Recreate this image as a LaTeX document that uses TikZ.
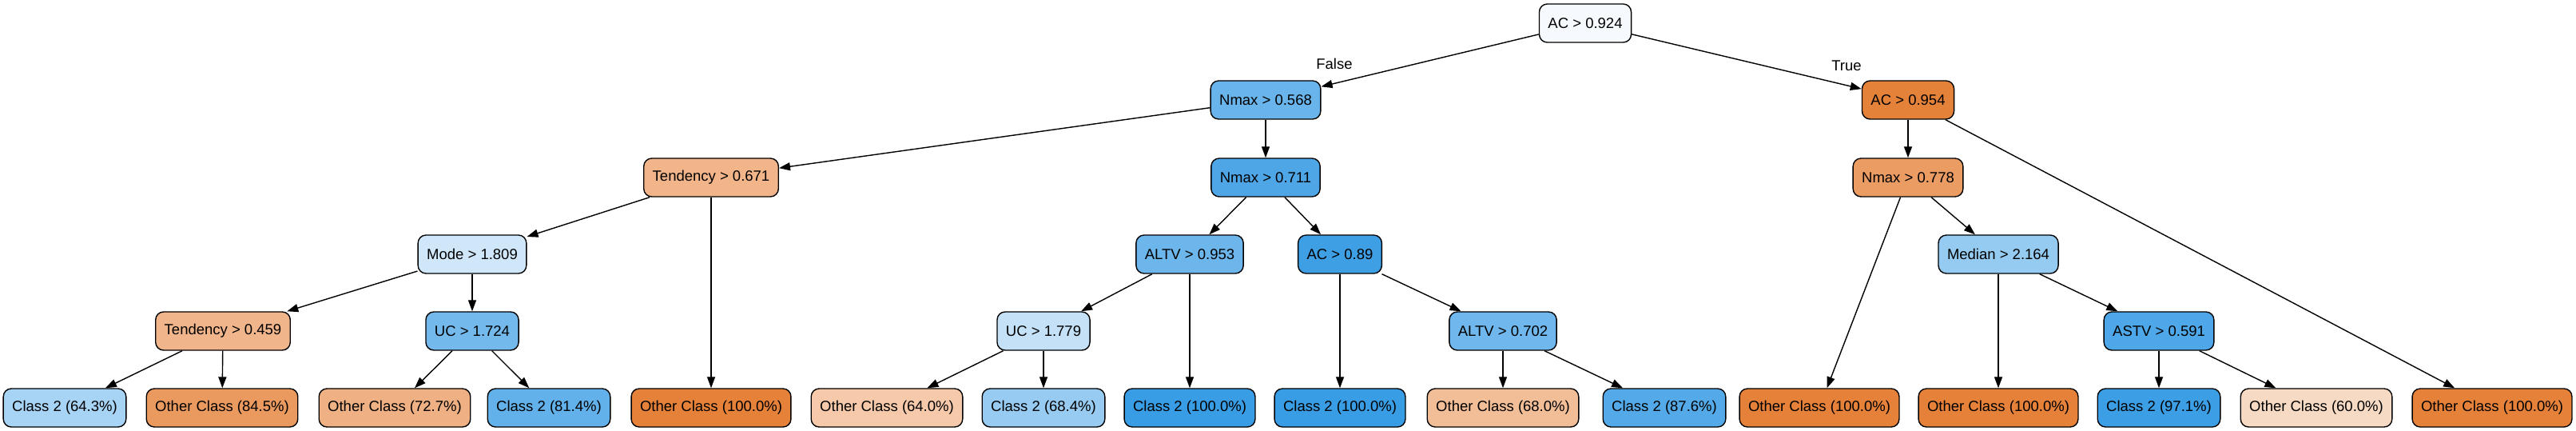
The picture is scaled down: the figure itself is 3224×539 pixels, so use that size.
\documentclass[tikz,border=0pt]{standalone}
\usepackage{fontspec}
\setmainfont{Liberation Sans}
\usepackage{tikz}
\usetikzlibrary{arrows.meta}

\definecolor{root}{HTML}{F6FAFE}
\definecolor{blueA}{HTML}{69B4EB}
\definecolor{blueB}{HTML}{4FA6E7}
\definecolor{blueC}{HTML}{D0E7F9}
\definecolor{blueD}{HTML}{6DB6EC}
\definecolor{blueE}{HTML}{3E9FE5}
\definecolor{blueF}{HTML}{95CAF1}
\definecolor{blueG}{HTML}{73B9EC}
\definecolor{blueH}{HTML}{C4E1F7}
\definecolor{blueI}{HTML}{6FB7EC}
\definecolor{blueJ}{HTML}{4EA7E8}
\definecolor{orangeA}{HTML}{E5823A}
\definecolor{orangeB}{HTML}{F2B58A}
\definecolor{orangeC}{HTML}{EA9C63}
\definecolor{orangeD}{HTML}{F1B58B}
\definecolor{leafA}{HTML}{A7D3F5}
\definecolor{leafB}{HTML}{EA9A5F}
\definecolor{leafC}{HTML}{EFB084}
\definecolor{leafD}{HTML}{62B1EA}
\definecolor{leafE}{HTML}{E58139}
\definecolor{leafF}{HTML}{F5C9A9}
\definecolor{leafG}{HTML}{97CBF1}
\definecolor{leafH}{HTML}{399DE5}
\definecolor{leafI}{HTML}{F2BE98}
\definecolor{leafJ}{HTML}{54AAE8}
\definecolor{leafK}{HTML}{3C9FE5}
\definecolor{leafL}{HTML}{F7DAC3}

\begin{document}
\begin{tikzpicture}[->,>={Triangle[length=7pt,width=5pt]},x=0.5pt,y=-0.5pt,
                    line width=0.7pt]
  \tikzstyle{box}=[draw,rounded corners=5pt,minimum height=24pt,inner xsep=5.5pt,
                   font=\fontsize{9.25}{11}\selectfont]
  \tikzstyle{lbl}=[font=\fontsize{9.25}{11}\selectfont]

  \useasboundingbox (0,0) rectangle (3224,539);

  \node[box,fill=root]    (ac924)   at (1984,29)  {AC > 0.924};
  \node[box,fill=blueA]   (nmax568) at (1584,125) {Nmax > 0.568};
  \node[box,fill=orangeA] (ac954)   at (2388,125) {AC > 0.954};
  \node[box,fill=orangeB] (tend671) at (890,222)  {Tendency > 0.671};
  \node[box,fill=blueB]   (nmax711) at (1584,222) {Nmax > 0.711};
  \node[box,fill=orangeC] (nmax778) at (2388,222) {Nmax > 0.778};
  \node[box,fill=blueC]   (mode)    at (591,318)  {Mode > 1.809};
  \node[box,fill=blueD]   (altv953) at (1489,318) {ALTV > 0.953};
  \node[box,fill=blueE]   (ac890)   at (1677,318) {AC > 0.89};
  \node[box,fill=blueF]   (median)  at (2501,318) {Median > 2.164};
  \node[box,fill=orangeD] (tend459) at (279,414)  {Tendency > 0.459};
  \node[box,fill=blueG]   (uc724)   at (591,414)  {UC > 1.724};
  \node[box,fill=blueH]   (uc779)   at (1306,414) {UC > 1.779};
  \node[box,fill=blueI]   (altv702) at (1881,414) {ALTV > 0.702};
  \node[box,fill=blueJ]   (astv)    at (2702,414) {ASTV > 0.591};

  \node[box,fill=leafA] (leafa) at (81,510)   {Class 2 (64.3\%)};
  \node[box,fill=leafB] (leafb) at (278,510)  {Other Class (84.5\%)};
  \node[box,fill=leafC] (leafc) at (494,510)  {Other Class (72.7\%)};
  \node[box,fill=leafD] (leafd) at (687,510)  {Class 2 (81.4\%)};
  \node[box,fill=leafE] (leafe) at (890,510)  {Other Class (100.0\%)};
  \node[box,fill=leafF] (leaff) at (1110,510) {Other Class (64.0\%)};
  \node[box,fill=leafG] (leafg) at (1306,510) {Class 2 (68.4\%)};
  \node[box,fill=leafH] (leafh) at (1489,510) {Class 2 (100.0\%)};
  \node[box,fill=leafH] (leafi) at (1677,510) {Class 2 (100.0\%)};
  \node[box,fill=leafI] (leafj) at (1881,510) {Other Class (68.0\%)};
  \node[box,fill=leafJ] (leafk) at (2083,510) {Class 2 (87.6\%)};
  \node[box,fill=leafE] (leafl) at (2277,510) {Other Class (100.0\%)};
  \node[box,fill=leafE] (leafm) at (2501,510) {Other Class (100.0\%)};
  \node[box,fill=leafK] (leafn) at (2702,510) {Class 2 (97.1\%)};
  \node[box,fill=leafL] (leafo) at (2899,510) {Other Class (60.0\%)};
  \node[box,fill=leafE] (leafp) at (3119,510) {Other Class (100.0\%)};

  \node[lbl] (false) at (1670,80) {False};
  \node[lbl] (true)  at (2311,82) {True};

  \path (ac924)   edge (nmax568)
        (ac924)   edge (ac954)
        (nmax568) edge (tend671)
        (nmax568) edge (nmax711)
        (tend671) edge (mode)
        (tend671) edge (leafe)
        (mode)    edge (tend459)
        (mode)    edge (uc724)
        (tend459) edge (leafa)
        (tend459) edge (leafb)
        (uc724)   edge (leafc)
        (uc724)   edge (leafd)
        (nmax711) edge (altv953)
        (nmax711) edge (ac890)
        (altv953) edge (uc779)
        (altv953) edge (leafh)
        (uc779)   edge (leaff)
        (uc779)   edge (leafg)
        (ac890)   edge (leafi)
        (ac890)   edge (altv702)
        (altv702) edge (leafj)
        (altv702) edge (leafk)
        (ac954)   edge (nmax778)
        (ac954)   edge (leafp)
        (nmax778) edge (leafl)
        (nmax778) edge (median)
        (median)  edge (leafm)
        (median)  edge (astv)
        (astv)    edge (leafn)
        (astv)    edge (leafo);

\end{tikzpicture}
\end{document}
